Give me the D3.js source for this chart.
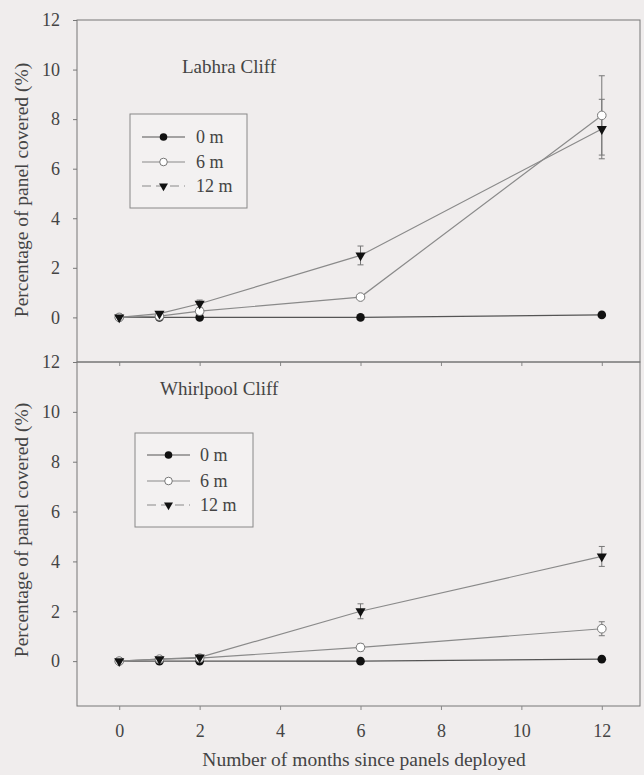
<!DOCTYPE html>
<html>
<head>
<meta charset="utf-8">
<script src="https://cdn.jsdelivr.net/npm/d3@7"></script>
<style>
  html, body { margin: 0; padding: 0; background: #f0eded; }
  svg { display: block; font-family: "Liberation Serif", "DejaVu Serif", serif; }
  svg text { font-family: "Liberation Serif", "DejaVu Serif", serif; }
</style>
</head>
<body>
<div id="chart"></div>
<script>
// months since deployment
const months = [0, 1, 2, 6, 12];
const depths = ["0 m", "6 m", "12 m"];
const xTicks = [0, 2, 4, 6, 8, 10, 12];
const yTicks = [0, 2, 4, 6, 8, 10, 12];

// Labhra Cliff
const labhra0 = [0, 0, 0, 0, 0.1];
const labhra6 = [0, 0.05, 0.25, 0.82, 8.15];
const labhra12 = [0, 0.15, 0.55, 2.5, 7.6];
const labhra6Err = [0, 0, 0, 0.05, 1.6];
const labhra12Err = [0, 0.05, 0.15, 0.38, 1.2];

// Whirlpool Cliff
const whirl0 = [0, 0, 0, 0, 0.08];
const whirl6 = [0, 0.08, 0.12, 0.55, 1.3];
const whirl12 = [0, 0.08, 0.15, 2.0, 4.2];
const whirl6Err = [0, 0, 0, 0.15, 0.28];
const whirl12Err = [0, 0, 0.05, 0.3, 0.4];

const W = 644, H = 775;
const left = 77, right = 640;

const svg = d3.select('#chart').append('svg')
  .attr('width', W).attr('height', H);

const x = d3.scaleLinear().domain([-1.05, 12.95]).range([left, right]);

const panels = [
  { title: 'Labhra Cliff', top: 20, bottom: 362, titleX: 182, titleY: 73, yTitle: 190,
    series: [labhra0, labhra6, labhra12], errs: [null, labhra6Err, labhra12Err],
    legend: { x0: 130, y0: 114, x1: 247, y1: 208, rows: [137, 162, 186], lx0: 142, lx1: 185, tx: 196 } },
  { title: 'Whirlpool Cliff', top: 362, bottom: 706, titleX: 160, titleY: 395, yTitle: 530,
    series: [whirl0, whirl6, whirl12], errs: [null, whirl6Err, whirl12Err],
    legend: { x0: 135, y0: 433, x1: 253, y1: 527, rows: [455, 481, 505], lx0: 147, lx1: 190, tx: 200 } }
];

const lineColors = ['#555', '#8a8a8a', '#8a8a8a'];

function marker(g, type, cx, cy, r) {
  if (type === 0) {
    g.append('circle').attr('cx', cx).attr('cy', cy).attr('r', r).attr('fill', '#111');
  } else if (type === 1) {
    g.append('circle').attr('cx', cx).attr('cy', cy).attr('r', r)
      .attr('fill', '#fff').attr('stroke', '#777').attr('stroke-width', 1);
  } else {
    g.append('path').attr('d', d3.symbol().type(d3.symbolTriangle).size(r * r * 2.4)())
      .attr('transform', `translate(${cx},${cy}) rotate(180)`).attr('fill', '#111');
  }
}

panels.forEach((p, pi) => {
  const y = d3.scaleLinear().domain([-1.8, 12]).range([p.bottom, p.top]);
  const g = svg.append('g');

  // frame
  g.append('rect').attr('x', left).attr('y', p.top)
    .attr('width', right - left).attr('height', p.bottom - p.top)
    .attr('fill', 'none').attr('stroke', '#777').attr('stroke-width', 1);

  // y axis
  const yAxis = g.append('g').attr('transform', `translate(${left},0)`)
    .call(d3.axisLeft(y).tickValues(yTicks).tickSize(4).tickPadding(13));
  yAxis.attr('font-family', null);
  yAxis.select('.domain').remove();
  yAxis.selectAll('line').attr('stroke', '#777');
  yAxis.selectAll('text').style('font-size', '18px').attr('fill', '#444');

  // x axis ticks
  const xAxis = g.append('g').attr('transform', `translate(0,${p.bottom})`)
    .call(d3.axisBottom(x).tickValues(xTicks).tickSize(4).tickPadding(14));
  xAxis.attr('font-family', null);
  xAxis.select('.domain').remove();
  xAxis.selectAll('line').attr('stroke', '#888');
  if (pi === 0) xAxis.selectAll('text').remove();
  else xAxis.selectAll('text').style('font-size', '18px').attr('fill', '#444');

  // y title
  g.append('text')
    .attr('transform', `translate(28,${p.yTitle}) rotate(-90)`)
    .attr('text-anchor', 'middle').attr('fill', '#444').style('font-size', '19.5px')
    .text('Percentage of panel covered (%)');

  // panel title
  g.append('text').attr('x', p.titleX).attr('y', p.titleY)
    .attr('fill', '#444').style('font-size', '19px').text(p.title);

  // lines
  const line = d3.line().x((d, i) => x(months[i])).y(d => y(d));
  p.series.forEach((s, si) => {
    g.append('path').datum(s).attr('d', line)
      .attr('fill', 'none').attr('stroke', lineColors[si]).attr('stroke-width', 1.2);
  });

  // error bars
  p.errs.forEach((e, si) => {
    if (!e) return;
    e.forEach((err, i) => {
      if (err <= 0) return;
      const v = p.series[si][i];
      const cx = x(months[i]);
      g.append('line').attr('x1', cx).attr('x2', cx)
        .attr('y1', y(v - err)).attr('y2', y(v + err))
        .attr('stroke', '#777').attr('stroke-width', 1);
      [v - err, v + err].forEach(t => {
        g.append('line').attr('x1', cx - 3).attr('x2', cx + 3)
          .attr('y1', y(t)).attr('y2', y(t))
          .attr('stroke', '#777').attr('stroke-width', 1);
      });
    });
  });

  // markers
  p.series.forEach((s, si) => {
    s.forEach((v, i) => marker(g, si, x(months[i]), y(v), 4.3));
  });

  // legend
  const L = p.legend;
  g.append('rect').attr('x', L.x0).attr('y', L.y0)
    .attr('width', L.x1 - L.x0).attr('height', L.y1 - L.y0)
    .attr('fill', '#f3f1f1').attr('stroke', '#888').attr('stroke-width', 1);
  depths.forEach((d, di) => {
    const ly = L.rows[di];
    g.append('line').attr('x1', L.lx0).attr('x2', L.lx1).attr('y1', ly).attr('y2', ly)
      .attr('stroke', lineColors[di]).attr('stroke-width', 1.2)
      .attr('stroke-dasharray', di === 2 ? '9,5' : null);
    marker(g, di, (L.lx0 + L.lx1) / 2, ly, 3.8);
    g.append('text').attr('x', L.tx).attr('y', ly + 6)
      .attr('fill', '#444').style('font-size', '18px').text(d);
  });
});

// x title
svg.append('text').attr('x', 364).attr('y', 766)
  .attr('text-anchor', 'middle').attr('fill', '#444').style('font-size', '19.5px')
  .text('Number of months since panels deployed');
</script>
</body>
</html>
